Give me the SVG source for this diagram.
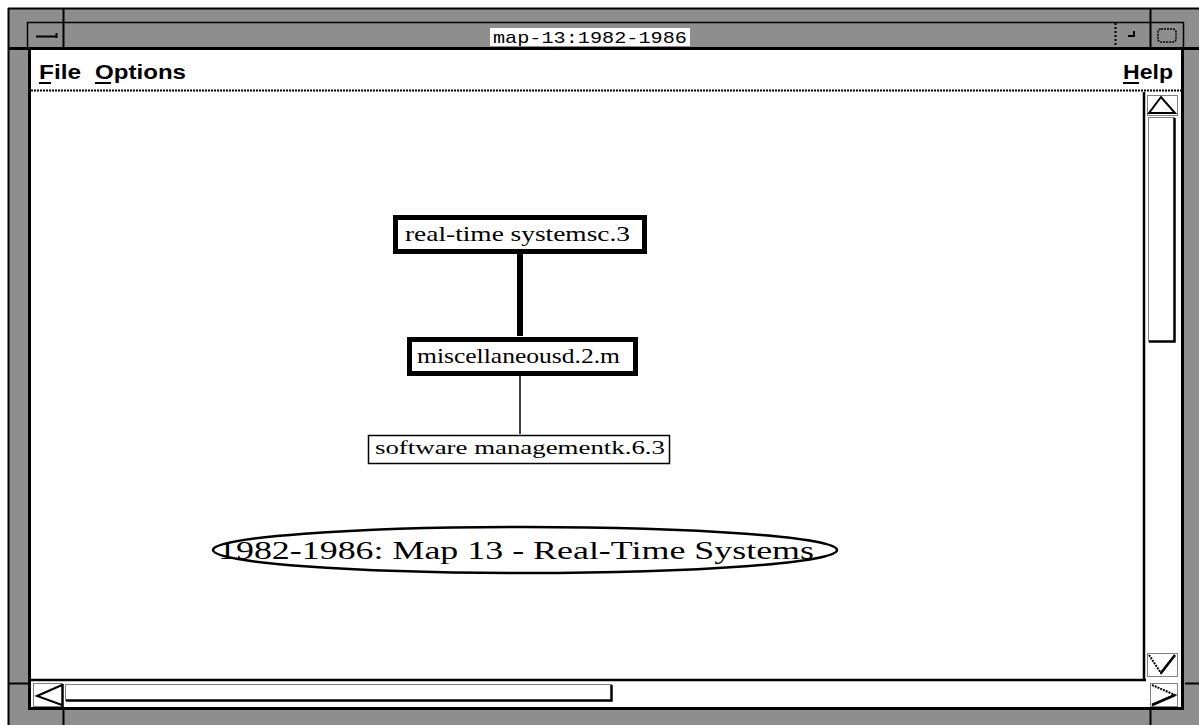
<svg xmlns="http://www.w3.org/2000/svg" width="1199" height="725" viewBox="0 0 1199 725">
<style>
.menu{font-family:"Liberation Sans",Arial,sans-serif;font-weight:bold;font-size:21px;fill:#000}
.title{font-family:"Liberation Mono","DejaVu Sans Mono",monospace;font-size:17px;fill:#000}
.lbl{font-family:"Liberation Serif","Times New Roman",serif;fill:#000}
.thick{fill:#fff;stroke:#000;stroke-width:5}
.thin{fill:#fff;stroke:#000;stroke-width:1.5}
.edge{stroke:#000;fill:none}
.fr{fill:none;stroke:#000}
.gray{fill:#8e8e8e}
</style>
<rect width="1199" height="725" fill="#fff"/>
<!-- window frame -->
<g id="frame">
<rect x="8" y="8" width="1191" height="717" class="gray"/>
<line x1="8" y1="8.5" x2="1199" y2="8.5" class="fr" stroke-width="2"/>
<line x1="8.5" y1="8" x2="8.5" y2="725" class="fr" stroke-width="2"/>
<line x1="63.5" y1="8" x2="63.5" y2="48" class="fr" stroke-width="2"/>
<line x1="1150.5" y1="8" x2="1150.5" y2="48" class="fr" stroke-width="2"/>
<line x1="63.5" y1="708" x2="63.5" y2="725" class="fr" stroke-width="2"/>
<line x1="1150.5" y1="708" x2="1150.5" y2="725" class="fr" stroke-width="2"/>
<line x1="8" y1="683.5" x2="28" y2="683.5" class="fr" stroke-width="2"/>
<line x1="1185" y1="683.5" x2="1199" y2="683.5" class="fr" stroke-width="2"/>
<!-- title bar -->
<path d="M27.5 48 V22.5 H1183.5 V48" class="fr" stroke-width="1.5"/>
<line x1="8" y1="48.5" x2="1199" y2="48.5" class="fr" stroke-width="3"/>
<line x1="36" y1="36.5" x2="57" y2="36.5" class="fr" stroke-width="2"/>
<line x1="56.5" y1="33" x2="56.5" y2="38" class="fr" stroke-width="2"/>
<line x1="1115.5" y1="23" x2="1115.5" y2="48" class="fr" stroke-width="2" stroke-dasharray="2 2"/>
<path d="M1128 36 H1134 V31" class="fr" stroke-width="2"/>
<rect x="1158" y="29" width="18" height="13" rx="3" class="fr" stroke-width="1.5" stroke-dasharray="2 1"/>
<rect x="490" y="28" width="200" height="18" fill="#fff"/>
<text x="590" y="43" class="title" text-anchor="middle" textLength="194" lengthAdjust="spacingAndGlyphs">map-13:1982-1986</text>
<!-- client area -->
<rect x="30" y="50" width="1152" height="658" fill="#fff"/>
<line x1="29.5" y1="48" x2="29.5" y2="709" class="fr" stroke-width="3"/>
<line x1="1182.5" y1="48" x2="1182.5" y2="709" class="fr" stroke-width="3"/>
<line x1="28" y1="708.5" x2="1184" y2="708.5" class="fr" stroke-width="3"/>
<!-- menu bar -->
<line x1="31" y1="90.5" x2="1182" y2="90.5" stroke="#000" stroke-width="2" stroke-dasharray="2 1"/>
<text x="39" y="79" class="menu" textLength="42" lengthAdjust="spacingAndGlyphs">File</text>
<line x1="39" y1="83" x2="51" y2="83" class="fr" stroke-width="2"/>
<text x="95" y="79" class="menu" textLength="91" lengthAdjust="spacingAndGlyphs">Options</text>
<line x1="95" y1="83" x2="111" y2="83" class="fr" stroke-width="2"/>
<text x="1123" y="79" class="menu" textLength="50" lengthAdjust="spacingAndGlyphs">Help</text>
<line x1="1123" y1="83" x2="1139" y2="83" class="fr" stroke-width="2"/>
<!-- vertical scrollbar -->
<line x1="1144" y1="92" x2="1144" y2="680" class="fr" stroke-width="2.5"/>
<rect x="1147.5" y="95.5" width="30" height="20" fill="#fff" stroke="#000" stroke-width="1" stroke-dasharray="1 1"/>
<path d="M1149 113 L1161 97 L1175 113 Z" fill="#fff" stroke="#000" stroke-width="2"/>
<rect x="1148.5" y="117.5" width="26" height="224" fill="#fff" stroke="#000" stroke-width="1" stroke-dasharray="1 1"/>
<path d="M1174.5 118 V341.5 H1149" class="fr" stroke-width="2.5"/>
<rect x="1147.5" y="653.5" width="30" height="23" fill="#fff" stroke="#000" stroke-width="1" stroke-dasharray="1 1"/>
<path d="M1149 655 L1161 673 L1175 655" class="fr" stroke-width="2" stroke-dasharray="2 1"/>
<path d="M1161 673 L1175 655" class="fr" stroke-width="2.5"/>
<!-- horizontal scrollbar -->
<line x1="28" y1="680" x2="1146" y2="680" class="fr" stroke-width="2.5"/>
<rect x="33.5" y="683.5" width="29" height="23" fill="#fff" stroke="#000" stroke-width="1" stroke-dasharray="1 1"/>
<path d="M62 685 L37 696 L62 705" class="fr" stroke-width="2"/>
<line x1="62.5" y1="684" x2="62.5" y2="707" class="fr" stroke-width="2.5"/>
<rect x="65.5" y="684.5" width="546" height="16" fill="#fff" stroke="#000" stroke-width="1" stroke-dasharray="1 1"/>
<path d="M611.5 685 V700.5 H66" class="fr" stroke-width="2.5"/>
<rect x="1150.5" y="683.5" width="27" height="23" fill="#fff" stroke="#000" stroke-width="1" stroke-dasharray="1 1"/>
<path d="M1152 685 L1175 695 L1152 705" class="fr" stroke-width="2" stroke-dasharray="2 1"/>
<path d="M1175 695 L1152 705" class="fr" stroke-width="2.5"/>
</g>
<!-- connectors -->
<g id="connectors">
<line x1="520" y1="253" x2="520" y2="336" class="edge" stroke-width="6"/>
<line x1="520" y1="376" x2="520" y2="434" class="edge" stroke-width="1.5"/>
</g>
<!-- nodes -->
<g id="node-realtime">
<rect x="395.5" y="217.5" width="249" height="34" class="thick"/>
<text x="405" y="241" class="lbl" font-size="21" textLength="225" lengthAdjust="spacingAndGlyphs">real-time systemsc.3</text>
</g>
<g id="node-misc">
<rect x="409.5" y="339.5" width="226" height="34" class="thick"/>
<text x="417" y="363" class="lbl" font-size="21" textLength="203" lengthAdjust="spacingAndGlyphs">miscellaneousd.2.m</text>
</g>
<g id="node-software">
<rect x="368.5" y="435.5" width="301" height="28" class="thin"/>
<text x="375" y="454" class="lbl" font-size="18" textLength="290" lengthAdjust="spacingAndGlyphs">software managementk.6.3</text>
</g>
<g id="node-title">
<ellipse cx="525" cy="550" rx="312" ry="23" fill="#fff" stroke="#000" stroke-width="2.5"/>
<text x="218" y="559" class="lbl" font-size="25" textLength="596" lengthAdjust="spacingAndGlyphs">1982-1986: Map 13 - Real-Time Systems</text>
</g>
</svg>
